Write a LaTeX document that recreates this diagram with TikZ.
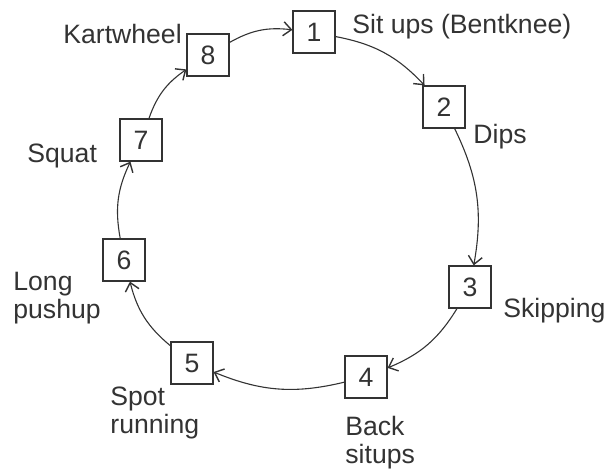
\documentclass[tikz,border=0pt]{standalone}
\usepackage{fontspec}
\setmainfont{Liberation Sans}
\usetikzlibrary{arrows.meta}
\definecolor{ink}{HTML}{333333}
\tikzset{
  stepbox/.style={draw=ink, line width=0.6pt, fill=white, minimum size=21pt, inner sep=0pt, text=ink, font=\fontsize{13.3}{14}\selectfont},
  lbl/.style={anchor=base west, inner sep=0pt, text=ink, align=left, font=\fontsize{13.3}{14}\selectfont},
  flow/.style={draw=ink, line width=0.55pt, -{Straight Barb[length=4pt,width=7pt,line width=0.7pt]}, bend left=18}
}
\begin{document}
\begin{tikzpicture}[x=0.5pt,y=-0.5pt]
\useasboundingbox (0,0) rectangle (608,471);
\node[stepbox] (n1) at (314,32) {1};
\node[stepbox] (n2) at (444,107) {2};
\node[stepbox] (n3) at (470,287) {3};
\node[stepbox] (n4) at (366,377) {4};
\node[stepbox] (n5) at (192,363) {5};
\node[stepbox] (n6) at (124,260) {6};
\node[stepbox] (n7) at (141,140) {7};
\node[stepbox] (n8) at (208,55) {8};
\draw[flow] (n1) to (n2);
\draw[flow] (n2) to (n3);
\draw[flow] (n3) to (n4);
\draw[flow] (n4) to (n5);
\draw[flow] (n5) to (n6);
\draw[flow] (n6) to (n7);
\draw[flow] (n7) to (n8);
\draw[flow] (n8) to (n1);
\node[lbl] (t1) at (352,33) {Sit ups (Bentknee)};
\node[lbl] (t2) at (473,143) {Dips};
\node[lbl] (t3) at (503,317) {Skipping};
\node[lbl] (t4) at (345,463) {Back\\situps};
\node[lbl] (t5) at (110,433) {Spot\\running};
\node[lbl] (t6) at (13,318) {Long\\pushup};
\node[lbl] (t7) at (27,162) {Squat};
\node[lbl] (t8) at (63,43) {Kartwheel};
\end{tikzpicture}
\end{document}
